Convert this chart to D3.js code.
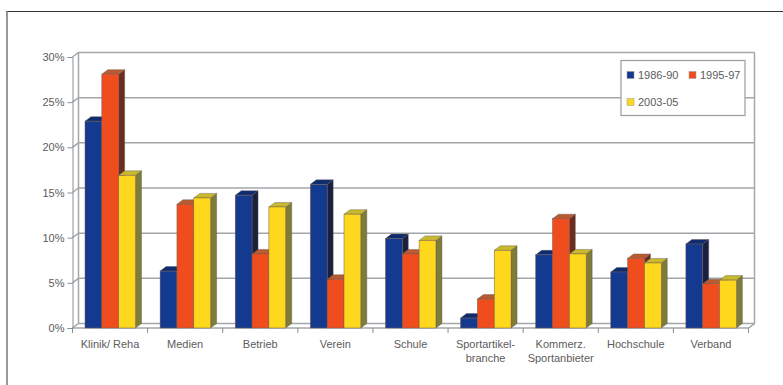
<!DOCTYPE html>
<html lang="de">
<head>
    <meta charset="UTF-8">
    <title>Arbeitsfelder 1986-2005</title>
    <script src="https://d3js.org/d3.v7.min.js"></script>
    <style>
        html, body { margin: 0; padding: 0; background: #fff; }
        svg { display: block; }
        text { font-family: "Liberation Sans", Arial, sans-serif; fill: #5c5c5c; }
    </style>
</head>
<body>
    <div id="chart"></div>
    <script>
        const categories = [
            ["Klinik/ Reha"], ["Medien"], ["Betrieb"], ["Verein"], ["Schule"],
            ["Sportartikel-", "branche"], ["Kommerz.", "Sportanbieter"], ["Hochschule"], ["Verband"]
        ];
        const seriesNames = ["1986-90", "1995-97", "2003-05"];
        const values1986 = [22.9, 6.3, 14.7, 15.9, 9.9, 1.1, 8.1, 6.2, 9.3];
        const values1995 = [28.1, 13.7, 8.2, 5.4, 8.2, 3.2, 12.1, 7.7, 4.9];
        const values2003 = [16.9, 14.4, 13.4, 12.6, 9.7, 8.6, 8.2, 7.2, 5.3];
        const yTicks = [0, 5, 10, 15, 20, 25, 30];

        const width = 783, height = 385;
        const depthX = 6, depthY = 4.5;
        const faceColors = ["#133a8e", "#f04d1e", "#fdd81c"];
        const topColors = ["#0f2c70", "#bb5a30", "#c9b92e"];
        const sideColors = ["#1a2140", "#6d2c1e", "#7f7c38"];

        const svg = d3.select("#chart").append("svg")
            .attr("width", width)
            .attr("height", height);

        // outer frame, only top and left edges fall inside the page
        svg.append("line").attr("x1", 6).attr("x2", width).attr("y1", 11.5).attr("y2", 11.5)
            .attr("stroke", "#333").attr("stroke-width", 1);
        svg.append("line").attr("x1", 7).attr("x2", 7).attr("y1", 11).attr("y2", height)
            .attr("stroke", "#777").attr("stroke-width", 1.5);

        const y = d3.scaleLinear().domain([0, 30]).range([328, 57]);
        const x = d3.scaleBand()
            .domain(categories.map((d, i) => i))
            .range([72.5, 748.5])
            .paddingInner(0)
            .paddingOuter(0);
        const xSeries = d3.scaleBand()
            .domain(seriesNames)
            .range([12.5, 63]);

        const grid = svg.append("g").attr("fill", "none").attr("stroke", "#a4a6aa");

        // back wall gridlines and the short diagonal on the side wall
        grid.selectAll(".gridline").data(yTicks).join("path")
            .attr("class", "gridline")
            .attr("stroke-width", 1.5)
            .attr("d", d => `M${x.range()[0]},${y(d)}L${x.range()[0] + depthX},${y(d) - depthY}H${x.range()[1] + depthX}`);

        grid.append("path")
            .attr("stroke-width", 1.5)
            .attr("d", `M${x.range()[0] + depthX},${y(30) - depthY}V${y(0) - depthY}`);
        grid.append("path")
            .attr("stroke-width", 1.5)
            .attr("d", `M${x.range()[1] + depthX},${y(30) - depthY}V${y(0) - depthY}L${x.range()[1]},${y(0)}H${x.range()[0]}`);

        // y axis
        const yAxis = d3.axisLeft(y)
            .tickValues(yTicks)
            .tickSize(5)
            .tickPadding(3)
            .tickFormat(d => d + "%");
        const yG = svg.append("g")
            .attr("transform", `translate(${x.range()[0]},0)`)
            .call(yAxis);
        yG.selectAll("line, path").attr("stroke", "#8c8e92").attr("stroke-width", 1);
        yG.selectAll("text").attr("font-size", 11).style("font-family", null);
        yG.attr("font-family", null);

        // x axis ticks sit between the categories
        const xEdges = d3.scaleLinear().domain([0, categories.length]).range(x.range());
        svg.append("g").selectAll("line").data(d3.range(categories.length + 1)).join("line")
            .attr("x1", d => xEdges(d)).attr("x2", d => xEdges(d))
            .attr("y1", y(0)).attr("y2", y(0) + 5)
            .attr("stroke", "#8c8e92");

        const labels = svg.append("g").selectAll("text").data(categories).join("text")
            .attr("text-anchor", "middle")
            .attr("font-size", 11)
            .attr("transform", (d, i) => `translate(${x(i) + 37.5},${347.5})`);
        labels.selectAll("tspan").data(d => d).join("tspan")
            .attr("x", 0)
            .attr("y", (d, i) => i * 14)
            .text(d => d);

        // bars: side, top and front face for every value
        const allSeries = [values1986, values1995, values2003];
        const rows = [];
        categories.forEach((c, i) => {
            allSeries.forEach((vals, s) => rows.push({ cat: i, s: s, value: vals[i] }));
        });

        const bars = svg.append("g").selectAll("g").data(rows).join("g")
            .attr("transform", d => `translate(${x(d.cat) + xSeries(seriesNames[d.s])},0)`);
        const barW = xSeries.bandwidth();

        bars.append("path")
            .attr("fill", d => sideColors[d.s])
            .attr("stroke", "#555").attr("stroke-width", 0.4)
            .attr("d", d => `M${barW},${y(d.value)}l${depthX},${-depthY}V${y(0) - depthY}L${barW},${y(0)}Z`);
        bars.append("path")
            .attr("fill", d => topColors[d.s])
            .attr("stroke", "#555").attr("stroke-width", 0.4)
            .attr("d", d => `M0,${y(d.value)}l${depthX},${-depthY}h${barW}l${-depthX},${depthY}Z`);
        bars.append("rect")
            .attr("width", barW)
            .attr("y", d => y(d.value))
            .attr("height", d => y(0) - y(d.value))
            .attr("fill", d => faceColors[d.s])
            .attr("stroke", "#7a5a50").attr("stroke-width", 0.5);

        // legend
        const legend = svg.append("g");
        legend.append("rect")
            .attr("x", 621).attr("y", 60.5).attr("width", 124).attr("height", 55)
            .attr("fill", "#fff").attr("stroke", "#999ca0").attr("stroke-width", 1.2);
        const legendPos = [[627, 75], [689, 75], [627, 102]];
        const items = legend.selectAll("g").data(seriesNames).join("g")
            .attr("transform", (d, i) => `translate(${legendPos[i][0]},${legendPos[i][1]})`);
        items.append("rect")
            .attr("y", -3.5).attr("width", 7).attr("height", 7)
            .attr("fill", (d, i) => faceColors[i])
            .attr("stroke", "#999").attr("stroke-width", 0.5);
        items.append("text")
            .attr("x", 11).attr("y", 4)
            .attr("font-size", 11)
            .text(d => d);
    </script>
</body>
</html>
